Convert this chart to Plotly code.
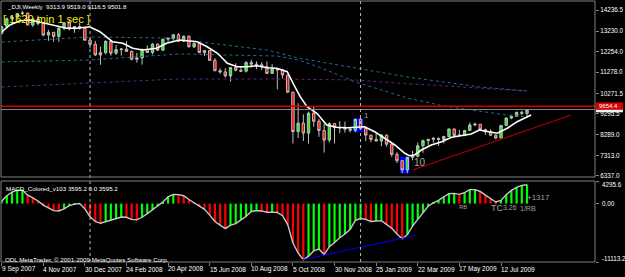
import plotly.graph_objects as go

# ---------------- data (weekly _DJI, 9 Sep 2007 .. 16 Aug 2009) ----------------
bar_idx = list(range(102))
opens = [13113, 13442, 13820, 13896, 14066, 14093, 13522, 13806, 13595, 13043,
         13177, 12980, 13372, 13625, 13339, 13450, 13366, 12800, 12606, 12099,
         12207, 12743, 12182, 12348, 12381, 12266, 11894, 11951, 12361, 12216,
         12609, 12325, 12849, 12891, 13058, 12745, 12986, 12480, 12638, 12210,
         12307, 11843, 11347, 11289, 11100, 11496, 11370, 11326, 11734, 11660,
         11628, 11543, 11220, 11422, 11388, 11143, 10325, 8451, 8852, 8378,
         9325, 8943, 8497, 8046, 8829, 8635, 8629, 8579, 8515, 9034,
         8599, 8281, 8077, 8000, 8280, 7850, 7366, 7063, 6627, 7224,
         7279, 7776, 8018, 8083, 8131, 8076, 8212, 8575, 8268, 8277,
         8500, 8764, 8799, 8539, 8438, 8280, 8146, 8743, 9093, 9172,
         9370, 9313.9]
highs = [13488, 13880, 13960, 14080, 14198, 14100, 13860, 13970, 13660, 13290,
         13190, 13410, 13650, 13780, 13460, 13630, 13400, 12900, 12770, 12500,
         12800, 12750, 12570, 12420, 12750, 12310, 12200, 12400, 12550, 12660,
         12650, 12860, 12920, 13060, 13140, 13030, 13030, 12690, 12690, 12330,
         12330, 11950, 11460, 11470, 11520, 11700, 11540, 11810, 11870, 11790,
         11760, 11790, 11660, 11440, 11400, 11150, 10340, 9800, 9270, 9400,
         9650, 9050, 8830, 8900, 8840, 8950, 8930, 8610, 9060, 9090,
         8600, 8290, 8400, 8330, 8310, 7890, 7470, 7090, 7250, 7530,
         7930, 8070, 8100, 8180, 8170, 8250, 8590, 8590, 8530, 8530,
         8880, 8880, 8800, 8590, 8570, 8330, 8760, 9130, 9250, 9390,
         9440, 9519.0]
lows = [13080, 13360, 13750, 13850, 13990, 13520, 13430, 13500, 12980, 12770,
        12720, 12720, 13270, 13260, 13150, 13300, 12780, 12420, 12050, 11630,
        12120, 12060, 12100, 12070, 12250, 11840, 11730, 11640, 12200, 12120,
        12290, 12290, 12720, 12780, 12740, 12730, 12470, 12430, 12200, 12050,
        11840, 11330, 11200, 11030, 10830, 11320, 11280, 11260, 11500, 11420,
        11370, 11210, 11200, 10460, 10980, 10300, 7880, 8150, 8000, 7880,
        8690, 8200, 7450, 7930, 7880, 8370, 8400, 8410, 8420, 8580,
        7990, 7950, 7990, 7750, 7740, 7250, 6950, 6470, 6470, 7080,
        7220, 7440, 7800, 7920, 7770, 7890, 8200, 8220, 8220, 8230,
        8490, 8700, 8500, 8300, 8250, 8090, 8140, 8740, 9040, 9160,
        9220, 9116.5]
closes = [13442, 13820, 13896, 14066, 14093, 13522, 13806, 13595, 13043, 13177,
          12980, 13372, 13625, 13339, 13450, 13366, 12800, 12606, 12099, 12207,
          12743, 12182, 12348, 12381, 12266, 11894, 11951, 12361, 12216, 12609,
          12325, 12849, 12891, 13058, 12745, 12986, 12480, 12638, 12210, 12307,
          11843, 11347, 11289, 11100, 11496, 11370, 11326, 11734, 11660, 11628,
          11543, 11220, 11422, 11388, 11143, 10325, 8451, 8852, 8378, 9325,
          8943, 8497, 8046, 8829, 8635, 8629, 8579, 8515, 9034, 8599,
          8281, 8077, 8000, 8280, 7850, 7366, 7063, 6627, 7224, 7279,
          7776, 8018, 8083, 8131, 8076, 8212, 8575, 8268, 8277, 8500,
          8764, 8799, 8539, 8438, 8280, 8146, 8743, 9093, 9172, 9370,
          9321, 9501.8]

# white moving average
ma_x = [0, 1.6, 3.5, 5.4, 7.9, 10.6, 12.5, 14.4, 16.9, 18.9, 20.2, 21.3, 23.3, 25.2,
        27.1, 29.8, 31.7, 34.2, 37.6, 39.5, 41.5, 43.4, 45.3, 47.2, 49.1, 51.0, 52.9,
        54.9, 56.2, 57.4, 58.7, 60.6, 62.5, 64.4, 66.4, 68.3, 69.8, 71.7, 73.6, 75.6,
        77.5, 78.4, 79.4, 80.7, 82.6, 84.6, 86.5, 88.4, 90.3, 91.8, 93.4, 95.3, 97.2,
        99.1, 101.8]
ma_y = [13189, 13523, 13727, 13760, 13632, 13475, 13366, 13366, 13442, 13204, 12966,
        12728, 12652, 12414, 12333, 12414, 12652, 12809, 12728, 12490, 12176, 11700,
        11538, 11538, 11586, 11490, 11462, 11300, 10667, 10110, 9635, 9320, 8764, 8654,
        8635, 8654, 8683, 8445, 8131, 7812, 7417, 7303, 7336, 7574, 7812, 7969, 8178,
        8240, 8335, 8526, 8445, 8369, 8607, 8921, 9240]

# dotted long moving averages
tealA_x = [0, 17, 32, 38, 51, 57, 67, 78, 92, 101]
tealA_y = [12714, 12951, 12904, 12714, 12333, 11952, 11524, 11048, 10572, 10382]
tealB_x = [0, 17, 34, 53, 57, 61, 68, 78, 85, 97, 101]
tealB_y = [11762, 11857, 12143, 12047, 11857, 11524, 10810, 10049, 9668, 9240, 9144]
purple_x = [0, 17, 34, 53, 68, 76, 101]
purple_y = [10572, 10762, 10953, 10953, 10905, 10762, 10382]

# MACD histogram values
macd = [450, 1500, 2200, 2550, 2550, 1600, 1100, 500, -300, -900,
        -1350, -1400, -1000, -400, -100, 0, -1000, -2500, -3400, -3750,
        -3450, -3100, -2850, -2550, -2600, -3000, -3100, -2600, -1900, -1150,
        -500, 300, 1300, 1750, 1700, 1500, 780, 100, -500, -1100,
        -2200, -3400, -4100, -4750, -4100, -3800, -3100, -2400, -1500, -1350,
        -1400, -1650, -1620, -1700, -2300, -4000, -7500, -9400, -10700, -10000,
        -9000, -8650, -9700, -8200, -7400, -6500, -5800, -4900, -3200, -2850,
        -3000, -3400, -3300, -3250, -3950, -4700, -5800, -6700, -5900, -4300,
        -3000, -1700, -500, 150, 600, 1300, 1900, 1950, 1750, 2100,
        2650, 2650, 2300, 1600, 900, 300, 600, 1700, 2500, 3100,
        3450, 3595.2]
macd_min, macd_max = -11113.2, 4295.6

# trend lines
price_trend_x = [79.0, 109.5]
price_trend_y = [6622, 9240]
macd_trend_x = [57.7, 79.6]
macd_trend_y = [-10700, -6050]

hline_level = 9654.4
bid_level = 9501.8
separator_idx = [17, 69]
highlight_groups = [[68, 69], [77, 78]]

price_ticks = [14236.5, 13230.0, 12254.0, 11278.0, 10271.5, 9295.5, 8289.0, 7313.0, 6337.0]
macd_ticks = [4295.6, 0.0, -11113.2]
macd_ticktext = ["4295.6", "0.00", "-11113.2"]
date_tick_idx = [0, 8, 16, 24, 32, 40, 48, 56, 64, 72, 80, 88, 96]
date_tick_text = ["9 Sep 2007", "4 Nov 2007", "30 Dec 2007", "24 Feb 2008", "20 Apr 2008",
                  "15 Jun 2008", "10 Aug 2008", "5 Oct 2008", "30 Nov 2008", "25 Jan 2009",
                  "22 Mar 2009", "17 May 2009", "12 Jul 2009"]

# ---------------- layout helpers ----------------
W, H = 625, 277
ML, MR, MT, MB = 1, 28, 1, 15
PW = W - ML - MR
PH = H - MT - MB


def px(x):
    return (x - ML) / PW


def py(y):
    return (H - MB - y) / PH


FONT = "Liberation Sans"
GRAY = "#808080"

fig = go.Figure()

shapes = []
for grp in highlight_groups:
    shapes.append(dict(type="rect", xref="x", yref="y", layer="below",
                       x0=grp[0] - 0.45, x1=grp[-1] + 0.45,
                       y0=min(lows[i] for i in grp), y1=max(highs[i] for i in grp),
                       fillcolor="#0000ff", line=dict(width=0)))

for xs, ys, col in [(tealA_x, tealA_y, "#226e8e"), (tealB_x, tealB_y, "#226e8e"),
                    (purple_x, purple_y, "#5c2a84")]:
    fig.add_trace(go.Scatter(x=xs, y=ys, mode="lines", xaxis="x", yaxis="y",
                             line=dict(color=col, width=1, dash="dot"), hoverinfo="skip"))

fig.add_trace(go.Candlestick(x=bar_idx, open=opens, high=highs, low=lows, close=closes,
                             xaxis="x", yaxis="y", whiskerwidth=0,
                             increasing=dict(fillcolor="#00ff00", line=dict(color="#c0c0c0", width=1)),
                             decreasing=dict(fillcolor="#ff0000", line=dict(color="#c0c0c0", width=1))))

fig.add_trace(go.Scatter(x=ma_x, y=ma_y, mode="lines", xaxis="x", yaxis="y",
                         line=dict(color="#ffffff", width=1.6), hoverinfo="skip"))

fig.add_trace(go.Scatter(x=price_trend_x, y=price_trend_y, mode="lines", xaxis="x", yaxis="y",
                         line=dict(color="#c00000", width=1), hoverinfo="skip"))

macd_colors = ["#00ff00" if i == 0 or macd[i] >= macd[i - 1] else "#ff0000" for i in range(len(macd))]
fig.add_trace(go.Bar(x=bar_idx, y=macd, xaxis="x", yaxis="y2", width=0.42,
                     marker=dict(color=macd_colors, line=dict(width=0))))
fig.add_trace(go.Scatter(x=bar_idx, y=macd, mode="lines", xaxis="x", yaxis="y2",
                         line=dict(color="#c8c8c8", width=1.4), hoverinfo="skip"))
fig.add_trace(go.Scatter(x=macd_trend_x, y=macd_trend_y, mode="lines", xaxis="x", yaxis="y2",
                         line=dict(color="#0000ff", width=1), hoverinfo="skip"))

shapes.append(dict(type="line", xref="x domain", yref="y", x0=0, x1=1, y0=hline_level, y1=hline_level,
                   line=dict(color="#d00000", width=1.5)))
shapes.append(dict(type="line", xref="x domain", yref="y", x0=0, x1=1, y0=bid_level, y1=bid_level,
                   line=dict(color="#8a8a8a", width=1)))
for s in separator_idx:
    shapes.append(dict(type="line", xref="x", yref="paper", x0=s, x1=s, y0=0, y1=1,
                       line=dict(color="#b8b8b8", width=1, dash="dot")))
shapes.append(dict(type="rect", xref="x domain", yref="y domain", x0=0, x1=1, y0=0, y1=1,
                   line=dict(color=GRAY, width=1)))
shapes.append(dict(type="rect", xref="x domain", yref="y2 domain", x0=0, x1=1, y0=0, y1=1,
                   line=dict(color=GRAY, width=1)))
shapes.append(dict(type="rect", xref="paper", yref="paper", x0=px(598), x1=px(625),
                   y0=py(112.3), y1=py(109.5), fillcolor="#f0f0f0", line=dict(width=0)))
shapes.append(dict(type="rect", xref="paper", yref="paper", x0=px(598), x1=px(625),
                   y0=py(109.5), y1=py(102.5), fillcolor="#e00000", line=dict(width=0)))

ann = []


def txt(x, y, s, size=6, color="#ffffff", xanchor="left"):
    ann.append(dict(x=px(x), y=py(y), xref="paper", yref="paper", text=s, showarrow=False,
                    xanchor=xanchor, yanchor="middle", font=dict(family=FONT, size=size, color=color)))


txt(5, 7, "_DJI,Weekly  9313.9 9519.0 9116.5 9501.8", 6.2)
txt(1, 19, "[ 1620 min 1 sec ]", 11, "#f0f000")
txt(4, 188, "MACD_Colored_v103 3595.2 0.0 3595.2", 6.2)
txt(3, 259, "ODL MetaTrader, © 2001-2009 MetaQuotes Software Corp.", 6.2)
txt(363, 115, "1", 8, "#a0a0a0")
txt(413, 162, "10", 10, "#a8a8a8")
txt(459, 207, "RB", 6, "#a0a0a0")
txt(491, 208, "TC", 9, "#a0a0a0")
txt(503, 207, "3.26", 7, "#a0a0a0")
txt(520, 208, "1/RB", 7, "#a0a0a0")
txt(527, 197, "+1317", 8, "#a0a0a0")
txt(599, 105.8, "9654.4", 6, "#ffffff")

# MACD scale labels: drawn just inside the panel edges, as the terminal does
for t, ypix in zip(macd_ticktext, [184.5, 203.6, 258.5]):
    txt(602, ypix, t, 6.3, "#ffffff")

for i, t in zip(date_tick_idx, date_tick_text):
    ann.append(dict(x=i, y=py(269), xref="x", yref="paper", text=t, showarrow=False,
                    xanchor="left", yanchor="middle", xshift=-2,
                    font=dict(family=FONT, size=6.5, color="#ffffff")))

fig.update_layout(
    width=W, height=H,
    margin=dict(l=ML, r=MR, t=MT, b=MB),
    paper_bgcolor="#000000", plot_bgcolor="#000000",
    showlegend=False, boxgap=0.35,
    font=dict(family=FONT, size=6, color="#ffffff"),
    xaxis=dict(domain=[0, 1], anchor="y2", range=[-0.12, 114.07],
               showgrid=False, zeroline=False, showline=False,
               tickvals=date_tick_idx, ticks="outside", ticklen=3, tickcolor=GRAY,
               showticklabels=False, rangeslider=dict(visible=False), fixedrange=True),
    yaxis=dict(domain=[py(177), 1], anchor="x", side="right", range=[6289, 14665],
               showgrid=False, zeroline=False, showline=False,
               tickvals=price_ticks, ticktext=[f"{v:.1f}" for v in price_ticks],
               ticks="outside", ticklen=3, tickcolor=GRAY,
               tickfont=dict(family=FONT, size=6.3, color="#ffffff")),
    yaxis2=dict(domain=[0, py(181)], anchor="x", side="right", range=[macd_min, macd_max],
                showgrid=False, zeroline=False, showline=False,
                tickvals=macd_ticks, ticks="outside", ticklen=3, tickcolor=GRAY,
                showticklabels=False),
    shapes=shapes, annotations=ann,
)

fig.write_html("out.html")
